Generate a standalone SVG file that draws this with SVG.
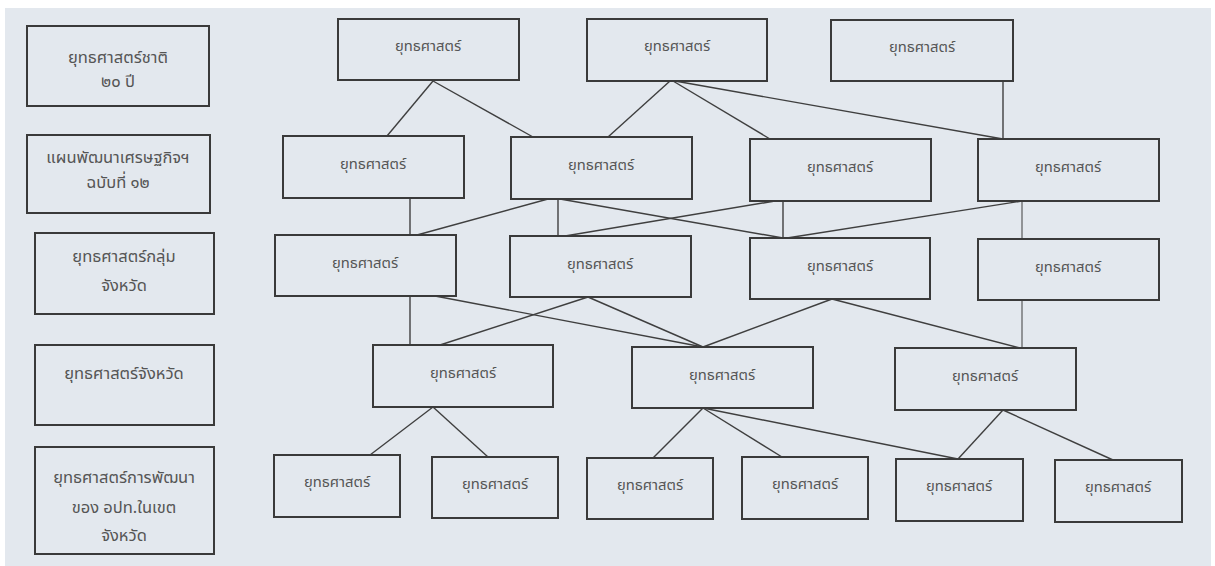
<svg xmlns="http://www.w3.org/2000/svg" width="1215" height="566" viewBox="0 0 1215 566">
<style>
.bg{fill:#e3e8ee}
.box{fill:#e3e8ee;stroke:#3a3a3a;stroke-width:2}
.t{font-family:"Noto Sans Thai","Noto Sans","DejaVu Sans",sans-serif;font-size:14.8px;fill:#555;text-anchor:middle;dominant-baseline:central}
.l{font-size:16.5px}
.c line{stroke:#3f3f3f;stroke-width:1.4}
</style>
<rect width="1215" height="566" fill="#ffffff"/>
<rect class="bg" x="5" y="8" width="1206" height="558"/>

<g id="L1"><rect class="box" x="27" y="26" width="182" height="80"/><text class="t l" x="118" y="57">ยุทธศาสตร์ชาติ</text><text class="t l" x="118" y="81">๒๐ ปี</text></g>
<g id="L2"><rect class="box" x="27" y="135" width="183" height="78"/><text class="t l" x="118" y="157">แผนพัฒนาเศรษฐกิจฯ</text><text class="t l" x="118" y="182">ฉบับที่ ๑๒</text></g>
<g id="L3"><rect class="box" x="35" y="233" width="179" height="81"/><text class="t l" x="124" y="256">ยุทธศาสตร์กลุ่ม</text><text class="t l" x="124" y="285">จังหวัด</text></g>
<g id="L4"><rect class="box" x="35" y="345" width="179" height="80"/><text class="t l" x="124" y="373">ยุทธศาสตร์จังหวัด</text></g>
<g id="L5"><rect class="box" x="35" y="447" width="179" height="107"/><text class="t l" x="124" y="477">ยุทธศาสตร์การพัฒนา</text><text class="t l" x="124" y="507">ของ อปท.ในเขต</text><text class="t l" x="124" y="535">จังหวัด</text></g>

<g class="c" id="connectors">
<line x1="433" y1="81" x2="387" y2="136"/>
<line x1="433" y1="81" x2="533" y2="137"/>
<line x1="670" y1="81" x2="608" y2="137"/>
<line x1="673" y1="81" x2="770" y2="139"/>
<line x1="675" y1="81" x2="1003" y2="139"/>
<line x1="1003" y1="81" x2="1003" y2="139"/>
<line x1="410" y1="198" x2="410" y2="235"/>
<line x1="548" y1="199" x2="417" y2="235"/>
<line x1="558" y1="199" x2="558" y2="236"/>
<line x1="560" y1="199" x2="783" y2="238"/>
<line x1="775" y1="201" x2="565" y2="236"/>
<line x1="783" y1="201" x2="783" y2="238"/>
<line x1="1022" y1="201" x2="787" y2="238"/>
<line x1="1022" y1="201" x2="1022" y2="239" style="stroke-width:1"/>
<line x1="410" y1="296" x2="410" y2="345"/>
<line x1="435" y1="296" x2="703" y2="347"/>
<line x1="588" y1="297" x2="440" y2="345"/>
<line x1="588" y1="297" x2="703" y2="347"/>
<line x1="832" y1="299" x2="703" y2="347"/>
<line x1="832" y1="299" x2="1020" y2="348"/>
<line x1="1022" y1="300" x2="1022" y2="348" style="stroke-width:1"/>
<line x1="433" y1="407" x2="370" y2="455"/>
<line x1="433" y1="407" x2="488" y2="457"/>
<line x1="703" y1="408" x2="653" y2="458"/>
<line x1="703" y1="408" x2="782" y2="457"/>
<line x1="703" y1="408" x2="958" y2="459"/>
<line x1="1003" y1="410" x2="958" y2="459"/>
<line x1="1003" y1="410" x2="1113" y2="460"/>
</g>

<g id="N1"><rect class="box" x="338" y="19" width="181" height="61"/><text class="t" x="428" y="46">ยุทธศาสตร์</text></g>
<g id="N2"><rect class="box" x="587" y="19" width="180" height="62"/><text class="t" x="677" y="46">ยุทธศาสตร์</text></g>
<g id="N3"><rect class="box" x="831" y="20" width="182" height="61"/><text class="t" x="922" y="47">ยุทธศาสตร์</text></g>
<g id="N4"><rect class="box" x="283" y="136" width="181" height="62"/><text class="t" x="373" y="164">ยุทธศาสตร์</text></g>
<g id="N5"><rect class="box" x="511" y="137" width="181" height="62"/><text class="t" x="601" y="165">ยุทธศาสตร์</text></g>
<g id="N6"><rect class="box" x="750" y="139" width="181" height="62"/><text class="t" x="840" y="167">ยุทธศาสตร์</text></g>
<g id="N7"><rect class="box" x="978" y="139" width="181" height="62"/><text class="t" x="1068" y="167">ยุทธศาสตร์</text></g>
<g id="N8"><rect class="box" x="275" y="235" width="181" height="61"/><text class="t" x="365" y="263">ยุทธศาสตร์</text></g>
<g id="N9"><rect class="box" x="510" y="236" width="181" height="61"/><text class="t" x="600" y="264">ยุทธศาสตร์</text></g>
<g id="N10"><rect class="box" x="750" y="238" width="180" height="61"/><text class="t" x="840" y="266">ยุทธศาสตร์</text></g>
<g id="N11"><rect class="box" x="978" y="239" width="181" height="61"/><text class="t" x="1068" y="267">ยุทธศาสตร์</text></g>
<g id="N12"><rect class="box" x="373" y="345" width="180" height="62"/><text class="t" x="463" y="373">ยุทธศาสตร์</text></g>
<g id="N13"><rect class="box" x="632" y="347" width="181" height="61"/><text class="t" x="722" y="375">ยุทธศาสตร์</text></g>
<g id="N14"><rect class="box" x="895" y="348" width="181" height="62"/><text class="t" x="985" y="376">ยุทธศาสตร์</text></g>
<g id="N15"><rect class="box" x="274" y="455" width="126" height="62"/><text class="t" x="337" y="482">ยุทธศาสตร์</text></g>
<g id="N16"><rect class="box" x="432" y="457" width="126" height="61"/><text class="t" x="495" y="484">ยุทธศาสตร์</text></g>
<g id="N17"><rect class="box" x="587" y="458" width="126" height="61"/><text class="t" x="650" y="485">ยุทธศาสตร์</text></g>
<g id="N18"><rect class="box" x="742" y="457" width="126" height="62"/><text class="t" x="805" y="484">ยุทธศาสตร์</text></g>
<g id="N19"><rect class="box" x="896" y="459" width="127" height="62"/><text class="t" x="959" y="486">ยุทธศาสตร์</text></g>
<g id="N20"><rect class="box" x="1055" y="460" width="127" height="62"/><text class="t" x="1118" y="487">ยุทธศาสตร์</text></g>
</svg>
